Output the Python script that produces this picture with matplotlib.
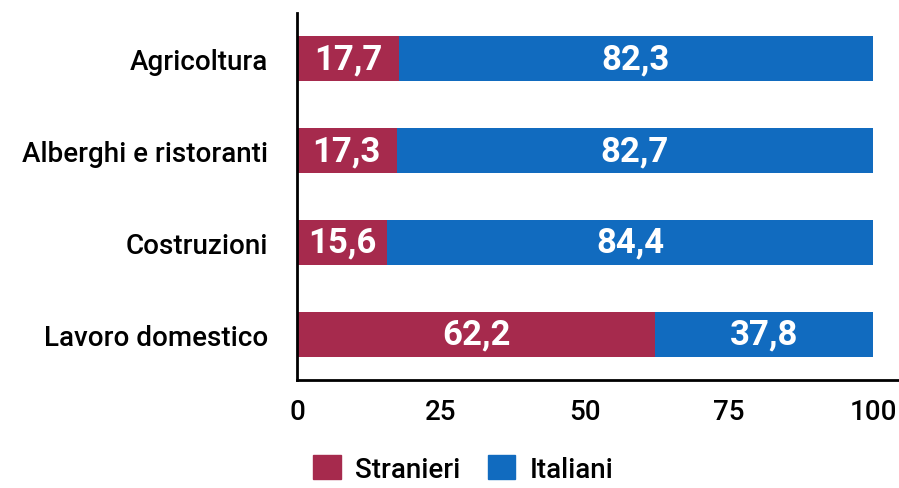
import matplotlib.pyplot as plt
from matplotlib.patches import Patch

plt.rcParams['font.family'] = ['Roboto', 'DejaVu Sans']

categories = ['Agricoltura', 'Alberghi e ristoranti', 'Costruzioni', 'Lavoro domestico']
stranieri = [17.7, 17.3, 15.6, 62.2]
italiani = [82.3, 82.7, 84.4, 37.8]
x_ticks = [0, 25, 50, 75, 100]

red = '#A62A4D'
blue = '#116BBF'

fig = plt.figure(figsize=(8.99, 4.89), dpi=100)
ax = fig.add_axes([0.3304, 0.2209, 0.6696, 0.7505])

y = list(range(len(categories)))
ax.barh(y, stranieri, height=0.49, color=red)
ax.barh(y, italiani, left=stranieri, height=0.49, color=blue)

for i, (s, it) in enumerate(zip(stranieri, italiani)):
    ax.text(s / 2, i, f'{s:.1f}'.replace('.', ','), ha='center', va='center',
            color='white', fontsize=25, fontweight='bold')
    ax.text(s + it / 2, i, f'{it:.1f}'.replace('.', ','), ha='center', va='center',
            color='white', fontsize=25, fontweight='bold')

ax.set_ylim(3.5, -0.5)
ax.set_xlim(0, 104.5)
ax.set_yticks(y)
ax.set_yticklabels(categories, fontsize=20, fontweight='medium')
ax.set_xticks(x_ticks)
ax.set_xticklabels([str(t) for t in x_ticks], fontsize=20, fontweight='medium')
ax.tick_params(axis='both', length=0)
ax.tick_params(axis='x', pad=13)
ax.tick_params(axis='y', pad=21)
ax.spines['top'].set_visible(False)
ax.spines['right'].set_visible(False)
ax.spines['left'].set_linewidth(2)
ax.spines['bottom'].set_linewidth(2)

handles = [Patch(color=red, label='Stranieri'), Patch(color=blue, label='Italiani')]
leg = fig.legend(handles=handles, loc='lower center', bbox_to_anchor=(0.515, -0.04), ncol=2,
                 frameon=False, fontsize=20, handlelength=1.0, handleheight=1.0,
                 columnspacing=1.0, handletextpad=0.5)
for t in leg.get_texts():
    t.set_fontweight('medium')

fig.savefig('out.png', dpi=100)
